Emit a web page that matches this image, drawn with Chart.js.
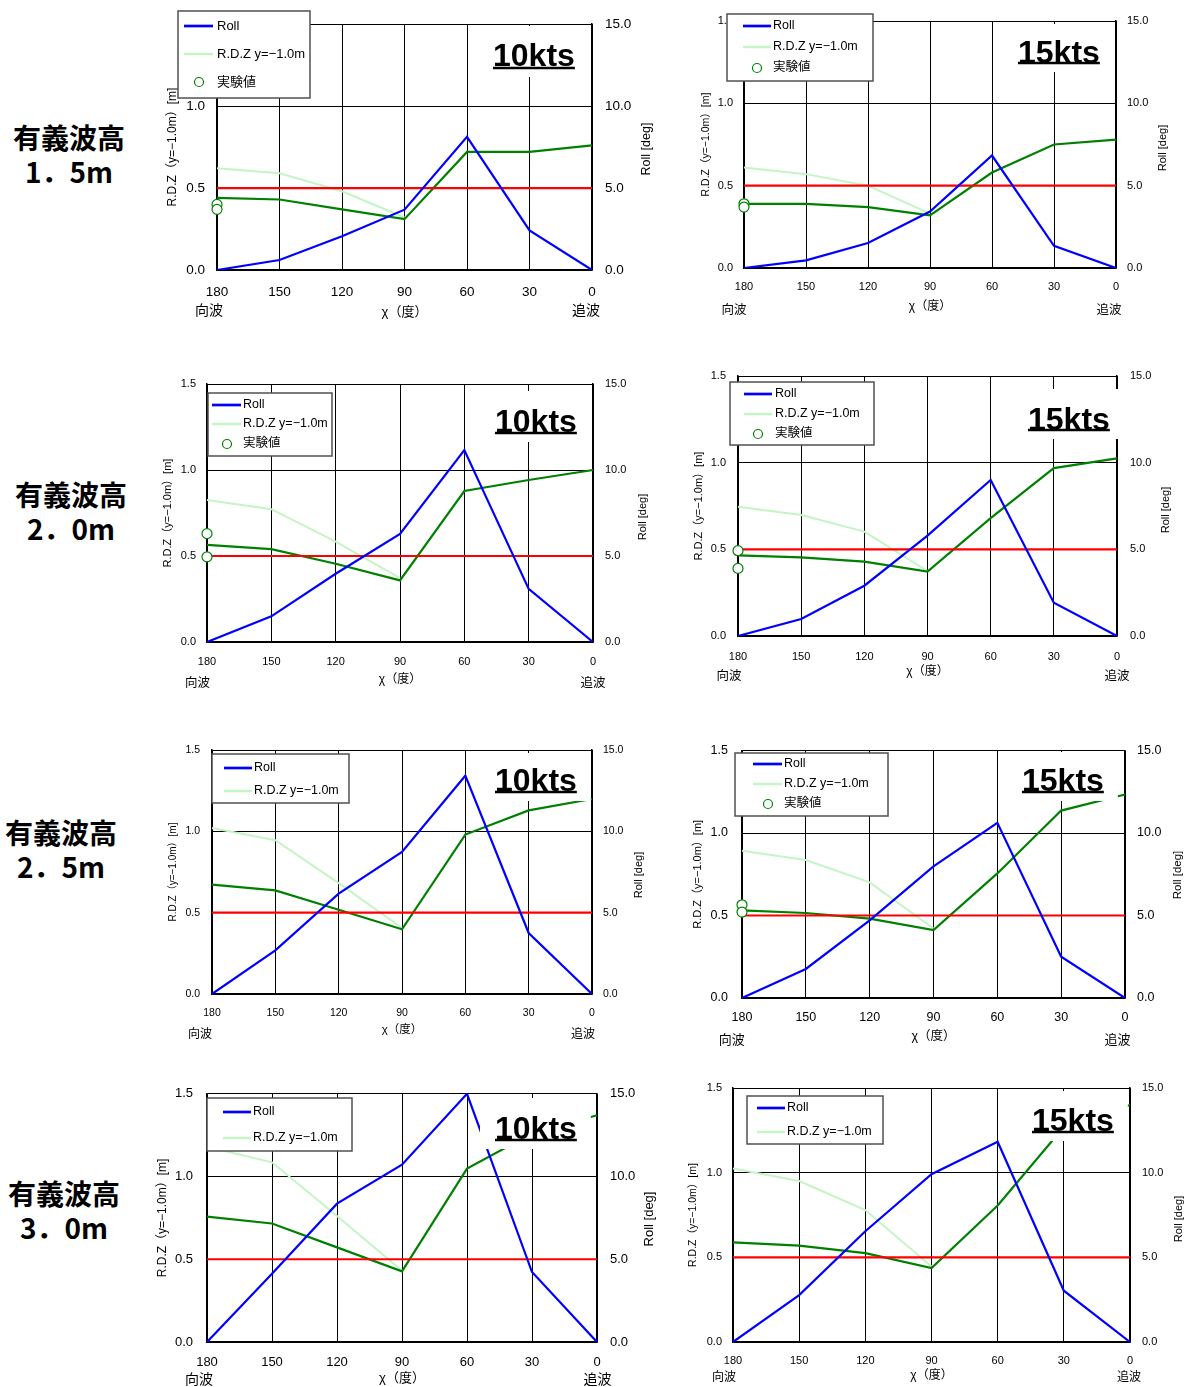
<!DOCTYPE html>
<html lang="ja">
<head>
<meta charset="utf-8">
<title>R.D.Z・Roll 応答</title>
<script src="https://cdn.jsdelivr.net/npm/chart.js@4.4.1/dist/chart.umd.min.js"></script>
<style>
  html, body { margin: 0; padding: 0; background: #fff; overflow: hidden; }
  body { position: relative; width: 1188px; height: 1387px; }
  canvas { position: absolute; }
  .wave {
    position: absolute; transform: translateX(-50%);
    font-family: "Noto Sans CJK JP", sans-serif; font-weight: bold;
    font-size: 28px; line-height: 34px; text-align: center; color: #000; white-space: nowrap;
  }
</style>
</head>
<body>
<div class="wave" style="left:69px;top:120px">有義波高<br>1．5m</div>
<div class="wave" style="left:71px;top:477px">有義波高<br>2．0m</div>
<div class="wave" style="left:61px;top:815px">有義波高<br>2．5m</div>
<div class="wave" style="left:64px;top:1176px">有義波高<br>3．0m</div>
<script>
// encounter angle χ [deg], head sea (180) to following sea (0)
const angles = ['180', '150', '120', '90', '60', '30', '0'];
// R.D.Z criterion line
const criterion = [0.5, 0.5, 0.5, 0.5, 0.5, 0.5, 0.5];

// 有義波高 1.5m
const roll_h15_10kt = [0, 0.61, 2.06, 3.68, 8.12, 2.42, 0];
const rdz_h15_10kt = [0.44, 0.43, 0.37, 0.31, 0.72, 0.72, 0.76];
const pale_h15_10kt = [0.62, 0.59, 0.48, 0.32, null, null, null];
const exp_h15_10kt = [0.40, 0.37];

const roll_h15_15kt = [0, 0.46, 1.52, 3.43, 6.83, 1.35, 0];
const rdz_h15_15kt = [0.39, 0.39, 0.37, 0.32, 0.58, 0.75, 0.78];
const pale_h15_15kt = [0.61, 0.57, 0.50, 0.33, null, null, null];
const exp_h15_15kt = [0.39, 0.37];

// 有義波高 2.0m
const roll_h20_10kt = [0, 1.49, 3.97, 6.29, 11.16, 3.09, 0];
const rdz_h20_10kt = [0.565, 0.54, 0.455, 0.358, 0.878, 0.942, 1.0];
const pale_h20_10kt = [0.826, 0.772, 0.584, 0.371, null, null, null];
const exp_h20_10kt = [0.63, 0.495];

const roll_h20_15kt = [0, 0.98, 2.90, 5.79, 9.0, 1.92, 0];
const rdz_h20_15kt = [0.465, 0.454, 0.429, 0.371, 0.68, 0.969, 1.025];
const pale_h20_15kt = [0.746, 0.698, 0.602, 0.375, null, null, null];
const exp_h20_15kt = [0.492, 0.39];

// 有義波高 2.5m
const roll_h25_10kt = [0, 2.68, 6.17, 8.73, 13.42, 3.75, 0];
const rdz_h25_10kt = [0.672, 0.637, 0.518, 0.398, 0.98, 1.129, 1.199];
const pale_h25_10kt = [1.02, 0.945, 0.682, 0.406, null, null, null];

const roll_h25_15kt = [0, 1.76, 4.71, 7.98, 10.62, 2.50, 0];
const rdz_h25_15kt = [0.531, 0.515, 0.481, 0.411, 0.755, 1.136, 1.233];
const pale_h25_15kt = [0.892, 0.836, 0.701, 0.421, null, null, null];
const exp_h25_15kt = [0.565, 0.521];

// 有義波高 3.0m
const roll_h30_10kt = [0, 4.13, 8.36, 10.72, 15.0, 4.23, 0];
const rdz_h30_10kt = [0.758, 0.716, 0.572, 0.427, 1.048, 1.26, 1.37];
const pale_h30_10kt = [1.18, 1.086, 0.762, 0.43, null, null, null];

const roll_h30_15kt = [0, 2.77, 6.54, 9.91, 11.83, 3.03, 0];
const rdz_h30_15kt = [0.588, 0.569, 0.525, 0.436, 0.806, 1.27, 1.40];
const pale_h30_15kt = [1.024, 0.951, 0.779, 0.446, null, null, null];

const LATIN = '"Liberation Sans", "Noto Sans CJK JP", sans-serif';
const BLUE = '#0000ff', GREEN = '#008000', PALE = '#c4f5c4', RED = '#ff0000';
const PAD_L = 60, PAD_R = 75, PAD_T = 20, PAD_B = 55;

Chart.defaults.font.family = LATIN;
Chart.defaults.color = '#000';

// page layout of each panel: plot box [left, top(1.5), right, bottom(0)] and decorations
const panels = [
  { kts: '10kts', roll: roll_h15_10kt, rdz: rdz_h15_10kt, pale: pale_h15_10kt, exp: exp_h15_10kt,
    plot: [217, 23, 592, 270], ktsPos: [493, 43, 68],
    legend: { box: [178, 11, 310, 98], line: [184, 213], textX: 217, rows: [26, 54, 82], dotX: 199, size: 13 },
    tick: 13.5, yPad: 12, rPad: 13, xPad: 14,
    yTitle: [173, 12], rollTitle: [647, 149, 12.5], xTitle: [312, 13], waves: [209, 586, 310, 14] },
  { kts: '15kts', roll: roll_h15_15kt, rdz: rdz_h15_15kt, pale: pale_h15_15kt, exp: exp_h15_15kt,
    plot: [744, 21, 1116, 268], ktsPos: [1018, 40, 63],
    legend: { box: [727, 14, 873, 81], line: [743, 771], textX: 773, rows: [26, 47, 68], dotX: 757, size: 12.5 },
    tick: 11, yPad: 11, rPad: 11, xPad: 12.7,
    yTitle: [706, 10.5], rollTitle: [1163, 148, 11], xTitle: [307, 12], waves: [734, 1109, 309, 12.5] },
  { kts: '10kts', roll: roll_h20_10kt, rdz: rdz_h20_10kt, pale: pale_h20_10kt, exp: exp_h20_10kt,
    plot: [207, 384, 593, 642], ktsPos: [495, 409, 433],
    legend: { box: [208, 393, 332, 456], line: [212, 241], textX: 243, rows: [405, 424, 444], dotX: 227, size: 12.5 },
    tick: 11, yPad: 11, rPad: 12, xPad: 13.7,
    yTitle: [168, 11], rollTitle: [643, 517, 11], xTitle: [680, 12], waves: [197.5, 593, 682, 12.5] },
  { kts: '15kts', roll: roll_h20_15kt, rdz: rdz_h20_15kt, pale: pale_h20_15kt, exp: exp_h20_15kt,
    plot: [738, 376, 1117, 636], ktsPos: [1028, 407, 430],
    legend: { box: [730, 382, 874, 445], line: [744, 772], textX: 775, rows: [394, 414, 434], dotX: 758, size: 12.5 },
    tick: 11, yPad: 12, rPad: 13, xPad: 14,
    yTitle: [699, 11], rollTitle: [1166, 510, 11], xTitle: [672, 12], waves: [729, 1117, 675, 12.5] },
  { kts: '10kts', roll: roll_h25_10kt, rdz: rdz_h25_10kt, pale: pale_h25_10kt, exp: null,
    plot: [212, 750, 592, 994], ktsPos: [495, 768, 792],
    legend: { box: [212, 754, 349, 803], line: [224, 252], textX: 254, rows: [768, 791], dotX: 0, size: 12.5 },
    tick: 10.5, yPad: 12, rPad: 11, xPad: 13,
    yTitle: [173, 10], rollTitle: [639, 875, 11], xTitle: [1030, 11.5], waves: [200, 583, 1033, 12] },
  { kts: '15kts', roll: roll_h25_15kt, rdz: rdz_h25_15kt, pale: pale_h25_15kt, exp: exp_h25_15kt,
    plot: [742, 749, 1125, 998], ktsPos: [1022, 768, 792],
    legend: { box: [735, 753, 888, 816], line: [753, 782], textX: 784, rows: [764, 784, 804], dotX: 768, size: 12.5 },
    tick: 12.5, yPad: 14, rPad: 12, xPad: 11.8,
    yTitle: [698, 11], rollTitle: [1178, 875, 11.5], xTitle: [1037, 12.5], waves: [731.7, 1117.5, 1039, 13] },
  { kts: '10kts', roll: roll_h30_10kt, rdz: rdz_h30_10kt, pale: pale_h30_10kt, exp: null,
    plot: [207, 1092, 597, 1342], ktsPos: [495, 1116, 1140],
    legend: { box: [207, 1098, 352, 1151], line: [223, 251], textX: 253, rows: [1112, 1138], dotX: 0, size: 12.5 },
    tick: 13, yPad: 14, rPad: 13, xPad: 12.5,
    yTitle: [163, 12], rollTitle: [649, 1219, 13], xTitle: [1378, 13], waves: [199, 597.5, 1379, 14] },
  { kts: '15kts', roll: roll_h30_15kt, rdz: rdz_h30_15kt, pale: pale_h30_15kt, exp: null,
    plot: [733, 1088, 1130, 1342], ktsPos: [1032, 1108, 1132],
    legend: { box: [747, 1096, 883, 1144], line: [757, 785], textX: 787, rows: [1108, 1132], dotX: 0, size: 12.5 },
    tick: 11, yPad: 11, rPad: 12, xPad: 12.4,
    yTitle: [693, 10.5], rollTitle: [1179, 1219, 11], xTitle: [1376, 12], waves: [724, 1129, 1376, 12] }
];

// legend box, speed label, roll-axis title and 向波/追波, drawn over the lines
function decor(p, left, top) {
  return {
    id: 'decor',
    afterDatasetsDraw(chart) {
      const ctx = chart.ctx;
      ctx.save();
      ctx.translate(-left, -top);

      // speed label sits on a white patch, kept below the top frame line
      const [kx, kcap, kul] = p.ktsPos;
      ctx.font = 'bold 32px ' + LATIN;
      const kw = ctx.measureText(p.kts).width;
      const patchTop = Math.max(kcap - 18, p.plot[1] + 3);
      ctx.fillStyle = '#fff';
      ctx.fillRect(kx - 15, patchTop, kw + 29, kul + 9 - patchTop);
      ctx.fillStyle = '#000';
      ctx.textAlign = 'left';
      ctx.textBaseline = 'alphabetic';
      ctx.fillText(p.kts, kx, kcap + 23);
      ctx.fillRect(kx, kul - 1.25, kw, 2.5);

      const lg = p.legend;
      const [x0, y0, x1, y1] = lg.box;
      ctx.fillStyle = '#fff';
      ctx.fillRect(x0, y0, x1 - x0, y1 - y0);
      ctx.strokeStyle = '#505050';
      ctx.lineWidth = 1.5;
      ctx.strokeRect(x0, y0, x1 - x0, y1 - y0);
      ctx.font = lg.size + 'px ' + LATIN;
      ctx.textBaseline = 'middle';
      chart.data.datasets.filter(d => d.legend).forEach((d, i) => {
        const y = lg.rows[i];
        if (d.legend === 'line') {
          ctx.strokeStyle = d.borderColor;
          ctx.lineWidth = d.borderWidth + 0.5;
          ctx.beginPath();
          ctx.moveTo(lg.line[0], y);
          ctx.lineTo(lg.line[1], y);
          ctx.stroke();
        } else {
          ctx.beginPath();
          ctx.arc(lg.dotX, y, 4.5, 0, Math.PI * 2);
          ctx.fillStyle = '#fff';
          ctx.fill();
          ctx.strokeStyle = d.pointBorderColor;
          ctx.lineWidth = 1.2;
          ctx.stroke();
        }
        ctx.fillStyle = '#000';
        ctx.fillText(d.label, lg.textX, y);
      });

      // Roll axis title reads bottom-to-top like the left one
      const [rx, ry, rs] = p.rollTitle;
      ctx.save();
      ctx.translate(rx, ry);
      ctx.rotate(-Math.PI / 2);
      ctx.font = rs + 'px ' + LATIN;
      ctx.textAlign = 'center';
      ctx.fillText('Roll [deg]', 0, 0);
      ctx.restore();

      const [hx, fx, wy, ws] = p.waves;
      ctx.font = ws + 'px "Noto Sans CJK JP", sans-serif';
      ctx.textAlign = 'center';
      ctx.fillText('向波', hx, wy);
      ctx.fillText('追波', fx, wy);
      ctx.restore();
    }
  };
}

function build(p) {
  const [L, T, R, B] = p.plot;
  const left = L - PAD_L, top = T - PAD_T;
  const cv = document.createElement('canvas');
  cv.width = R - L + PAD_L + PAD_R;
  cv.height = B - T + PAD_T + PAD_B;
  cv.style.left = left + 'px';
  cv.style.top = top + 'px';
  document.body.appendChild(cv);

  const line = { pointRadius: 0, tension: 0, spanGaps: false, fill: false };
  const datasets = [
    { ...line, label: 'Roll', data: p.roll, yAxisID: 'roll', borderColor: BLUE, borderWidth: 2.2, order: 1, legend: 'line' },
    { ...line, label: 'R.D.Z y=−1.0m', data: p.pale, yAxisID: 'y', borderColor: PALE, borderWidth: 2, order: 4, legend: 'line' }
  ];
  if (p.exp) {
    datasets.push({
      label: '実験値', data: p.exp.map(v => ({ x: '180', y: v })), yAxisID: 'y',
      showLine: false, pointRadius: 5, pointBorderColor: GREEN, pointBackgroundColor: '#fff',
      pointBorderWidth: 1.2, borderColor: GREEN, order: 0, legend: 'dot'
    });
  }
  datasets.push({ ...line, label: 'R.D.Z', data: p.rdz, yAxisID: 'y', borderColor: GREEN, borderWidth: 2.2, order: 3 });
  datasets.push({ ...line, label: '0.5m', data: criterion, yAxisID: 'y', borderColor: RED, borderWidth: 2.2, order: 2 });

  const [xty, xts] = p.xTitle;
  const [ytx, yts] = p.yTitle;

  new Chart(cv, {
    type: 'line',
    data: { labels: angles, datasets },
    options: {
      responsive: false,
      animation: false,
      events: [],
      layout: { padding: { left: 0, right: 0, top: PAD_T, bottom: 0 } },
      plugins: { legend: { display: false }, tooltip: { enabled: false } },
      scales: {
        x: {
          type: 'category', offset: false,
          grid: { color: '#000', lineWidth: 1, drawTicks: false },
          border: { color: '#000', width: 1.5 },
          ticks: { font: { size: p.tick }, padding: p.xPad, maxRotation: 0, autoSkip: false },
          title: {
            display: true, text: 'χ（度）', font: { size: xts },
            padding: { top: 0, bottom: PAD_B - (xty - B) - xts * 0.6 }
          },
          afterFit: s => { s.height = PAD_B; }
        },
        y: {
          position: 'left', min: 0, max: 1.5,
          grid: { color: '#000', lineWidth: 1, drawTicks: false },
          border: { color: '#000', width: 1.5 },
          ticks: { stepSize: 0.5, font: { size: p.tick }, padding: p.yPad, callback: v => v.toFixed(1) },
          title: {
            display: true, text: 'R.D.Z（y=−1.0m）[m]', font: { size: yts },
            padding: { top: ytx - left - yts * 0.6, bottom: 0 }
          },
          afterFit: s => { s.width = PAD_L; }
        },
        roll: {
          position: 'right', min: 0, max: 15,
          grid: { drawOnChartArea: false, drawTicks: false },
          border: { color: '#000', width: 1.5 },
          ticks: { stepSize: 5, font: { size: p.tick }, padding: p.rPad, callback: v => v.toFixed(1) },
          afterFit: s => { s.width = PAD_R; }
        }
      }
    },
    plugins: [decor(p, left, top)]
  });
}

panels.forEach(build);
</script>
</body>
</html>
